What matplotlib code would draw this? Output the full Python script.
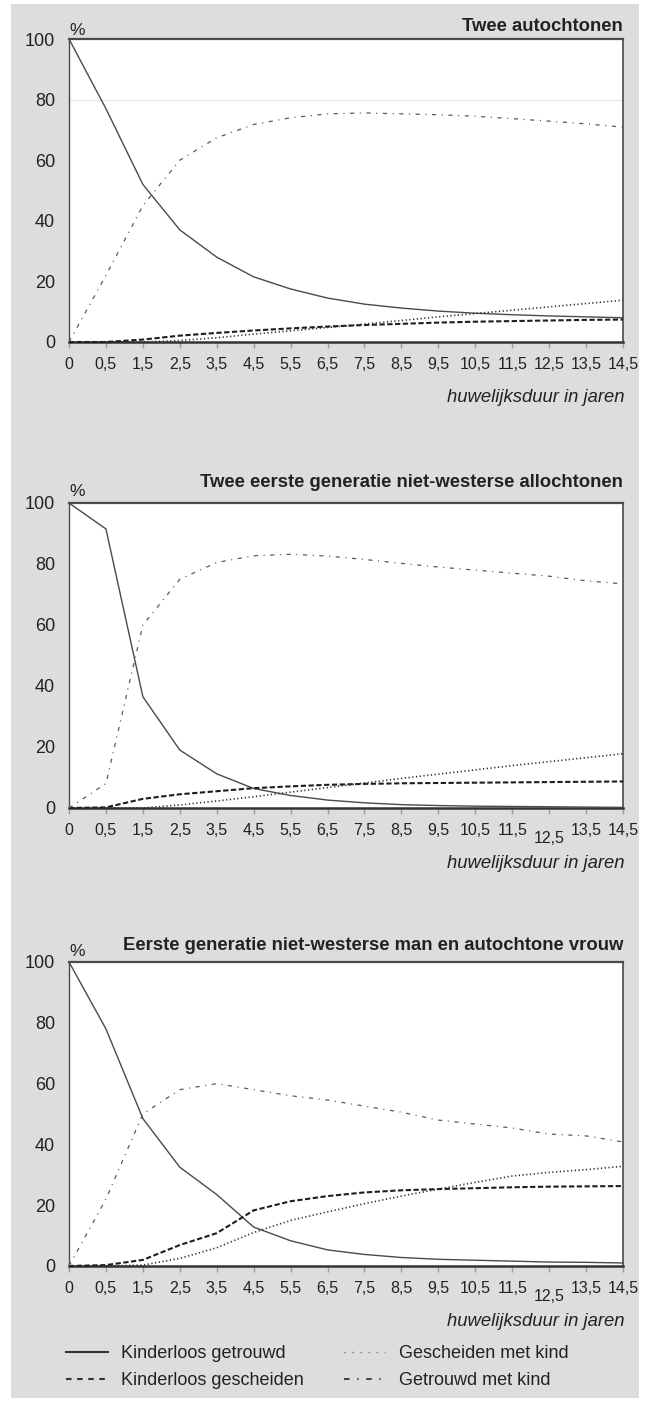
import matplotlib
matplotlib.use("Agg")
import matplotlib.pyplot as plt
from matplotlib.patches import Rectangle

plt.rcParams['font.family'] = ['Liberation Sans', 'DejaVu Sans']
plt.rcParams['lines.scale_dashes'] = False

# ---------------- data ----------------
x_labels = ['0', '0,5', '1,5', '2,5', '3,5', '4,5', '5,5', '6,5', '7,5',
            '8,5', '9,5', '10,5', '11,5', '12,5', '13,5', '14,5']
y_ticks = [0, 20, 40, 60, 80, 100]

panel_titles = ['Twee autochtonen',
                'Twee eerste generatie niet-westerse allochtonen',
                'Eerste generatie niet-westerse man en autochtone vrouw']

series_names = ['Kinderloos getrouwd', 'Kinderloos gescheiden',
                'Gescheiden met kind', 'Getrouwd met kind']

# Panel 1: Twee autochtonen
p1_kinderloos_getrouwd = [100, 77, 52, 37, 28, 21.5, 17.5, 14.5, 12.5, 11.2, 10.2, 9.5, 9.0, 8.6, 8.3, 8.0]
p1_kinderloos_gescheiden = [0, 0, 0.8, 2.1, 3.0, 3.8, 4.5, 5.1, 5.6, 6.0, 6.4, 6.7, 6.9, 7.1, 7.3, 7.4]
p1_gescheiden_met_kind = [0, 0, 0, 0.5, 1.4, 2.6, 3.7, 4.8, 5.9, 7.1, 8.3, 9.4, 10.5, 11.6, 12.7, 13.8]
p1_getrouwd_met_kind = [0, 22, 45, 60, 67.4, 71.8, 74, 75.3, 75.6, 75.3, 75, 74.5, 73.7, 72.9, 72, 70.9]

# Panel 2: Twee eerste generatie niet-westerse allochtonen
p2_kinderloos_getrouwd = [100, 91.5, 36.5, 19, 11.2, 6.4, 4.1, 2.6, 1.7, 1.1, 0.8, 0.6, 0.5, 0.4, 0.3, 0.2]
p2_kinderloos_gescheiden = [0, 0.2, 3.0, 4.5, 5.5, 6.5, 7.1, 7.6, 7.9, 8.1, 8.2, 8.3, 8.4, 8.5, 8.6, 8.7]
p2_gescheiden_met_kind = [0, 0, 0, 1.0, 2.3, 3.7, 5.2, 6.7, 8.2, 9.7, 11.1, 12.5, 13.9, 15.2, 16.5, 17.8]
p2_getrouwd_met_kind = [0, 8, 60, 75, 80.5, 82.7, 83.2, 82.6, 81.5, 80.2, 79, 78, 77, 76, 74.5, 73.5]

# Panel 3: Eerste generatie niet-westerse man en autochtone vrouw
p3_kinderloos_getrouwd = [100, 78, 48.5, 32.5, 23.5, 12.8, 8.3, 5.3, 3.8, 2.8, 2.2, 1.9, 1.6, 1.3, 1.2, 1.0]
p3_kinderloos_gescheiden = [0, 0.3, 2.0, 6.9, 10.8, 18.3, 21.3, 23.0, 24.2, 24.9, 25.3, 25.6, 25.9, 26.1, 26.2, 26.3]
p3_gescheiden_met_kind = [0, 0, 0.3, 2.5, 6.0, 11.0, 15.0, 17.8, 20.5, 23.0, 25.3, 27.5, 29.6, 30.8, 31.7, 32.8]
p3_getrouwd_met_kind = [0, 22, 50, 58, 60, 58, 56, 54.6, 52.6, 50.6, 48, 46.7, 45.4, 43.4, 42.8, 40.8]

panels = [
    [p1_kinderloos_getrouwd, p1_kinderloos_gescheiden, p1_gescheiden_met_kind, p1_getrouwd_met_kind],
    [p2_kinderloos_getrouwd, p2_kinderloos_gescheiden, p2_gescheiden_met_kind, p2_getrouwd_met_kind],
    [p3_kinderloos_getrouwd, p3_kinderloos_gescheiden, p3_gescheiden_met_kind, p3_getrouwd_met_kind],
]

# ---------------- styles ----------------
W, H = 651, 1401
styles = [
    dict(color='#4a4a4a', lw=1.0, linestyle='-'),
    dict(color='#1e1e1e', lw=1.5, linestyle=(0, (3.8, 1.8))),
    dict(color='#2e2e2e', lw=1.2, linestyle=(0, (0.9, 1.8))),
    dict(color='#5a5a5a', lw=0.9, linestyle=(0, (3.0, 4.0, 0.8, 4.0))),
]
legend_styles = [
    dict(color='#333333', lw=1.5, linestyle='-'),
    dict(color='#333333', lw=1.5, linestyle=(0, (4.0, 4.0))),
    dict(color='#555555', lw=1.0, linestyle=(0, (0.8, 5.0))),
    dict(color='#333333', lw=1.3, linestyle=(0, (4.0, 5.5, 1.0, 5.5))),
]
panel_px = [(39, 342), (503, 808), (962, 1266)]
title_off = [13, 20, 17]
pct_off = [9, 11, 10]
ax_left, ax_right = 69, 623

fig = plt.figure(figsize=(W / 100, H / 100), dpi=100)
fig.patch.set_facecolor('white')
fig.patches.append(Rectangle((11 / W, 1 - 1398 / H), (639 - 11) / W, (1398 - 4) / H,
                             transform=fig.transFigure, facecolor='#dcdddf',
                             edgecolor='none', zorder=-10))

xs = list(range(len(x_labels)))
for k, (data, title) in enumerate(zip(panels, panel_titles)):
    top, bot = panel_px[k]
    ax = fig.add_axes([ax_left / W, 1 - bot / H, (ax_right - ax_left) / W, (bot - top) / H])
    ax.set_zorder(1)
    ax.set_facecolor('white')
    ax.set_xlim(0, len(x_labels) - 1)
    ax.set_ylim(0, 100)
    if k == 0:
        ax.axhline(80, color='#e6e6e6', lw=0.8, zorder=0)
    for vals, st, name in zip(data, styles, series_names):
        ax.plot(xs, vals, label=name, clip_on=False, zorder=3, **st)
    ax.set_yticks(y_ticks)
    ax.set_yticklabels([str(v) for v in y_ticks])
    ax.set_xticks(xs)
    ax.set_xticklabels(x_labels)
    ax.tick_params(axis='y', length=0, pad=10, labelsize=13, labelcolor='#222222')
    ax.tick_params(axis='x', length=4, width=1, color='#9a9a9a', pad=7,
                   labelsize=11.5, labelcolor='#222222')
    if k > 0:
        ax.xaxis.get_major_ticks()[13].label1.set_y(-0.025)
    for side, lw in [('left', 1.0), ('top', 1.6), ('right', 1.2), ('bottom', 1.8)]:
        ax.spines[side].set_color('#4a4a4a' if side != 'bottom' else '#333333')
        ax.spines[side].set_linewidth(lw)
    ax.annotate(title, xy=(1, 1), xycoords='axes fraction',
                xytext=(0, title_off[k] * 0.72), textcoords='offset points',
                ha='right', va='center', fontsize=13.3, fontweight='bold', color='#222222')
    ax.annotate('%', xy=(0, 1), xycoords='axes fraction',
                xytext=(0, pct_off[k] * 0.72), textcoords='offset points',
                ha='left', va='center', fontsize=12.5, color='#222222')
    ax.annotate('huwelijksduur in jaren', xy=(1, 0), xycoords='axes fraction',
                xytext=(1, -56 * 0.72), textcoords='offset points',
                ha='right', va='center', fontsize=13.3, style='italic', color='#222222')

handles = [plt.Line2D([], [], **st) for st in legend_styles]
leg = fig.legend(handles, series_names, ncol=2, frameon=False,
                 loc='upper left', bbox_to_anchor=(66 / W, 1 - 1345 / H),
                 borderpad=0, borderaxespad=0, fontsize=13,
                 handlelength=2.3, handletextpad=0.75, columnspacing=2.2,
                 labelspacing=0.55)
for t in leg.get_texts():
    t.set_color('#222222')

fig.savefig('out.png', dpi=100, facecolor='white')
